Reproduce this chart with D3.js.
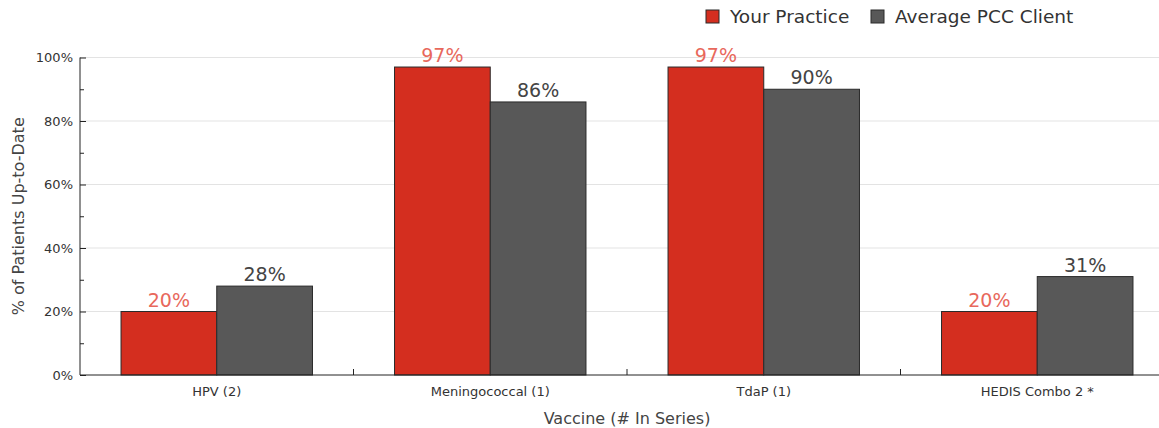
<!DOCTYPE html>
<html lang="en">
<head>
    <meta charset="UTF-8">
    <title>Vaccine Up-to-Date Rates</title>
    <script src="https://d3js.org/d3.v7.min.js"></script>
    <style>
        body {
            margin: 0;
            background-color: #ffffff;
            font-family: "DejaVu Sans", Verdana, sans-serif;
        }
        .grid line {
            stroke: #e3e3e3;
        }
        .axis path, .axis line {
            stroke: #222;
        }
        .tick-label {
            font-size: 13px;
            fill: #333;
        }
        .axis-title {
            font-size: 16px;
            fill: #444;
        }
        .value-label {
            font-size: 19px;
            text-anchor: middle;
        }
        .legend text {
            font-size: 18.5px;
            fill: #333;
        }
    </style>
</head>
<body>
    <svg id="chart" width="1159" height="428"></svg>

    <script>
        const width = 1159;
        const height = 428;

        const categories = ["HPV (2)", "Meningococcal (1)", "TdaP (1)", "HEDIS Combo 2 *"];
        const seriesNames = ["Your Practice", "Average PCC Client"];
        const yourPractice = [20, 97, 97, 20];
        const averageClient = [28, 86, 90, 31];
        const yTicks = [0, 20, 40, 60, 80, 100];

        const colors = ["#d42e1f", "#585858"];
        const labelColors = ["#e8685c", "#444444"];

        // plot area (band range runs past the right edge, like the original)
        const plotLeft = 80, plotTop = 57.5, plotBottom = 375;
        const bandStep = 273.5;

        const svg = d3.select("#chart");

        const x = d3.scaleBand()
            .domain(categories)
            .range([plotLeft, plotLeft + bandStep * categories.length])
            .paddingInner(0)
            .paddingOuter(0);

        const xInner = d3.scaleBand()
            .domain(seriesNames)
            .range([0, x.bandwidth() * 0.7]);

        const y = d3.scaleLinear()
            .domain([0, 100])
            .range([plotBottom, plotTop]);

        // gridlines
        svg.append("g")
            .attr("class", "grid")
            .selectAll("line")
            .data(yTicks.slice(1))
          .enter().append("line")
            .attr("x1", plotLeft)
            .attr("x2", width)
            .attr("y1", d => y(d))
            .attr("y2", d => y(d));

        // y axis with inward ticks, minor ones every 10
        const yAxis = svg.append("g")
            .attr("class", "axis")
            .attr("transform", `translate(${plotLeft},0)`)
            .call(d3.axisRight(y).tickValues(d3.range(0, 101, 10)).tickSize(4).tickFormat(""));
        yAxis.select(".domain").remove();
        yAxis.selectAll(".tick line").attr("x2", d => d % 20 === 0 ? 6 : 4);

        svg.append("line")
            .attr("x1", plotLeft).attr("x2", plotLeft)
            .attr("y1", plotTop).attr("y2", plotBottom)
            .attr("stroke", "#222");

        svg.append("g")
            .selectAll("text")
            .data(yTicks)
          .enter().append("text")
            .attr("class", "tick-label")
            .attr("x", plotLeft - 7)
            .attr("y", d => y(d))
            .attr("dy", "0.35em")
            .attr("text-anchor", "end")
            .text(d => d + "%");

        // bars
        const data = categories.map((c, i) => ({
            category: c,
            values: [
                {series: seriesNames[0], value: yourPractice[i], idx: 0},
                {series: seriesNames[1], value: averageClient[i], idx: 1}
            ]
        }));

        const groupOffset = x.bandwidth() * 0.15;

        const groups = svg.append("g")
            .selectAll("g")
            .data(data)
          .enter().append("g")
            .attr("transform", d => `translate(${x(d.category) + groupOffset},0)`);

        groups.selectAll("rect")
            .data(d => d.values)
          .enter().append("rect")
            .attr("x", d => xInner(d.series))
            .attr("y", d => y(d.value))
            .attr("width", xInner.bandwidth())
            .attr("height", d => y(0) - y(d.value))
            .attr("fill", d => colors[d.idx])
            .attr("stroke", "#2a2a2a")
            .attr("stroke-width", 1);

        groups.selectAll("text")
            .data(d => d.values)
          .enter().append("text")
            .attr("class", "value-label")
            .attr("x", d => xInner(d.series) + xInner.bandwidth() / 2)
            .attr("y", d => y(d.value) - 5)
            .attr("fill", d => labelColors[d.idx])
            .text(d => d.value + "%");

        // x axis
        const xAxis = svg.append("g")
            .attr("class", "axis")
            .attr("transform", `translate(0,${plotBottom})`);
        xAxis.append("line")
            .attr("x1", plotLeft).attr("x2", width)
            .attr("stroke", "#222");
        xAxis.selectAll(".sep")
            .data(categories.slice(1))
          .enter().append("line")
            .attr("class", "sep")
            .attr("x1", d => x(d)).attr("x2", d => x(d))
            .attr("y1", 0).attr("y2", -6)
            .attr("stroke", "#222");
        xAxis.selectAll("text")
            .data(categories)
          .enter().append("text")
            .attr("class", "tick-label")
            .attr("x", d => x(d) + x.bandwidth() / 2)
            .attr("y", 21)
            .attr("text-anchor", "middle")
            .text(d => d);

        // axis titles
        svg.append("text")
            .attr("class", "axis-title")
            .attr("x", (plotLeft + plotLeft + bandStep * 4) / 2)
            .attr("y", 424)
            .attr("text-anchor", "middle")
            .text("Vaccine (# In Series)");

        svg.append("text")
            .attr("class", "axis-title")
            .attr("transform", `translate(24,${(plotTop + plotBottom) / 2}) rotate(-90)`)
            .attr("text-anchor", "middle")
            .text("% of Patients Up-to-Date");

        // legend
        const legendX = [706, 871];
        const legend = svg.append("g")
            .attr("class", "legend")
            .selectAll("g")
            .data(seriesNames)
          .enter().append("g")
            .attr("transform", (d, i) => `translate(${legendX[i]},10)`);
        legend.append("rect")
            .attr("width", 13)
            .attr("height", 13)
            .attr("fill", (d, i) => colors[i])
            .attr("stroke", "#2a2a2a");
        legend.append("text")
            .attr("x", 24)
            .attr("y", 7)
            .attr("dy", "0.35em")
            .text(d => d);
    </script>
</body>
</html>
